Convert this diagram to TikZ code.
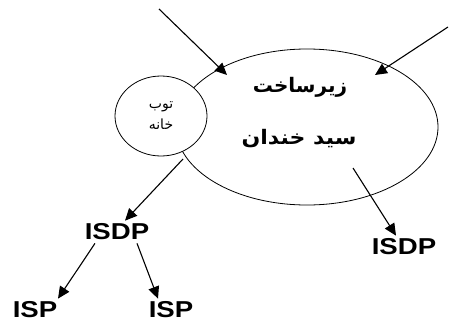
\documentclass[tikz,border=0pt]{standalone}
\usepackage{fontspec}
\setmainfont{Liberation Sans}
\newfontfamily\arabicfont[Script=Arabic]{DejaVu Sans}
\TeXXeTstate=1
\usetikzlibrary{shapes.geometric, arrows.meta, positioning, calc}

\begin{document}
\begin{tikzpicture}[x=1pt, y=-1pt,
    link/.style={line width=1.1pt, -{Triangle[length=12pt, width=11pt]}},
    latin/.style={font=\fontsize{23}{23}\selectfont\bfseries, inner sep=3pt},
    farsi/.style={font=\fontsize{20}{20}\selectfont\arabicfont\bfseries}]
    \useasboundingbox (0,0) rectangle (449,324);
    % main area and the small circle on top of it
    \node[draw, line width=0.8pt, ellipse, minimum width=262pt, minimum height=156pt] (hub) at (307,127) {};
    \node[draw, line width=0.8pt, ellipse, fill=white, minimum width=92pt, minimum height=80pt,
          align=center, font=\fontsize{14}{21}\selectfont\arabicfont] (tup) at (161,116)
          {\beginR توب\endR\\ \beginR خانه\endR};
    \node[farsi] (name1) at (300,87) {\beginR زیرساخت\endR};
    \node[farsi] (name2) at (299,139) {\scalebox{1.1}[1]{\beginR سید خندان\endR}};
    % labels
    \node[latin] (isdpL) at (117,232) {\scalebox{1.2}[1]{ISDP}};
    \node[latin] (isdpR) at (404,247) {\scalebox{1.2}[1]{ISDP}};
    \node[latin] (ispL) at (35,310) {\scalebox{1.2}[1]{ISP}};
    \node[latin] (ispR) at (171,310) {\scalebox{1.2}[1]{ISP}};
    % arrow ends
    \coordinate (inA) at (159,9);
    \coordinate (inAend) at (227,75);
    \coordinate (inB) at (448,27);
    \coordinate (inBend) at (375,75);
    \coordinate (outA) at (183,159);
    \coordinate (outB) at (353,168);
    \draw[link] (inA) -- (inAend);
    \draw[link] (inB) -- (inBend);
    \draw[link] (outA) -- ([xshift=8pt]isdpL.north);
    \draw[link] (outB) -- ([xshift=-8pt]isdpR.north);
    \draw[link] ([xshift=-22pt]isdpL.south) -- ([xshift=23pt]ispL.north);
    \draw[link] ([xshift=20pt]isdpL.south) -- ([xshift=-13pt]ispR.north);
\end{tikzpicture}
\end{document}
